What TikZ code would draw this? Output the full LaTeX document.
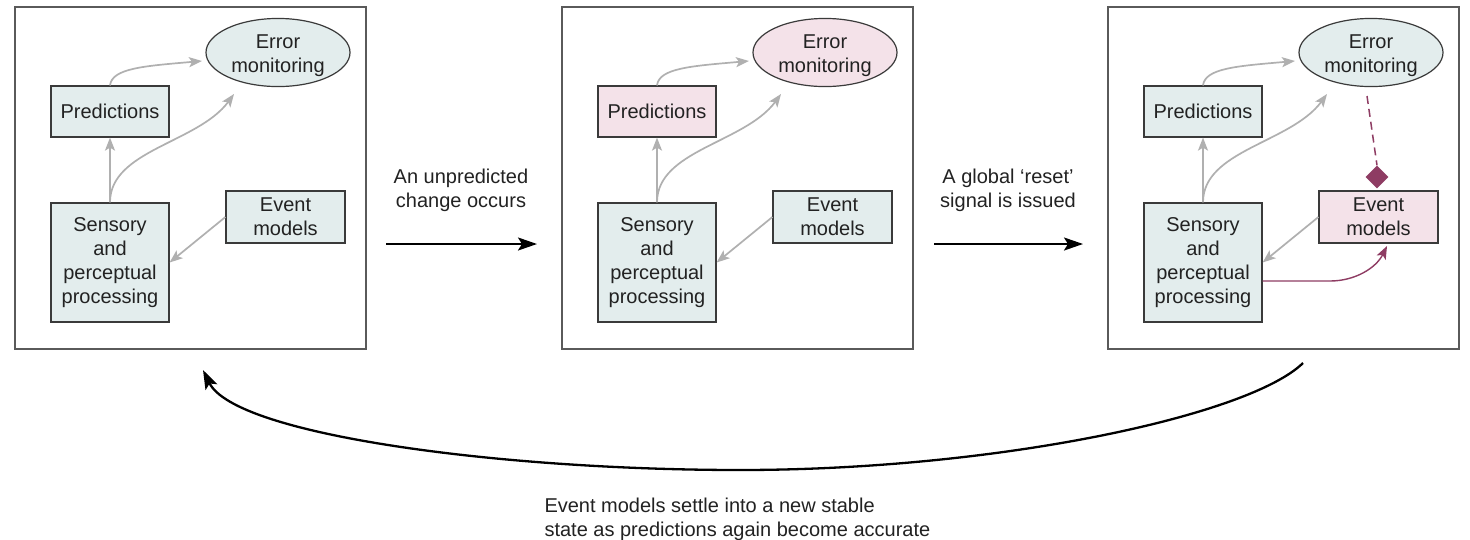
\documentclass[tikz,border=0pt]{standalone}
\usepackage{fontspec}
\setmainfont{Liberation Sans}
\usetikzlibrary{arrows.meta,shapes.geometric,calc}
\definecolor{boxblue}{HTML}{E3EDED}
\definecolor{boxpink}{HTML}{F4E2E9}
\definecolor{plum}{HTML}{8E3C63}
\definecolor{arrgray}{HTML}{B0B0B0}
\definecolor{framegray}{HTML}{5A5A5A}
\definecolor{edgecol}{HTML}{3A3A3A}
\definecolor{txt}{HTML}{222222}

\newcommand\drawpanel[5]{%
  \draw[frame] (#1,7) rectangle (#1+351,349);
  \node[predbox, fill=#3] (pred#2) at (#1+95,111.5) {Predictions};
  \node[errell, fill=#4] (err#2) at (#1+263,52.5) {\rule{0pt}{20pt}Error\\monitoring};
  \node[sensbox, fill=boxblue] (sens#2) at (#1+95,262.5) {Sensory\\and\\perceptual\\processing};
  \node[evbox, fill=#5] (ev#2) at (#1+270.5,217) {Event\\models};
  \coordinate (tipA#2) at (#1+187,61);
  \coordinate (tipB#2) at (#1+219,94);
  \draw[garrow] (pred#2.north) .. controls (#1+97,68) and (#1+130,66) .. (tipA#2);
  \draw[garrow] (sens#2.north) -- (pred#2.south);
  \draw[garrow] (sens#2.north) .. controls (#1+95,150) and (#1+183,143) .. (tipB#2);
  \draw[garrow] (ev#2.west) -- (sens#2.east);
}

\begin{document}
\begin{tikzpicture}[x=1pt,y=-1pt,
  every node/.style={font=\fontsize{20}{24}\selectfont, text=txt},
  frame/.style={draw=framegray, line width=1.5pt},
  rbox/.style={draw=edgecol, line width=1.2pt, inner sep=0pt, align=center},
  predbox/.style={rbox, minimum width=118pt, minimum height=51pt},
  sensbox/.style={rbox, minimum width=118pt, minimum height=119pt},
  evbox/.style={rbox, minimum width=119pt, minimum height=52pt},
  errell/.style={ellipse, draw=edgecol, line width=1.2pt, minimum width=144pt, minimum height=51pt, inner sep=0pt, align=center},
  garrow/.style={draw=arrgray, line width=1.7pt, -{Stealth[length=13pt,width=10pt,inset=3pt]}},
  barrow/.style={draw=black, line width=2.3pt, -{Stealth[length=19pt,width=13pt,inset=4pt]}},
  parrow/.style={draw=plum, line width=1.4pt, -{Stealth[length=13pt,width=10pt,inset=3pt]}},
  plumdia/.style={diamond, fill=plum, minimum width=23pt, minimum height=23pt, inner sep=0pt},
  caption/.style={align=center},
]
\useasboundingbox (0,0) rectangle (1470,539);
\fill[white] (0,0) rectangle (1470,539);

\drawpanel{15}{1}{boxblue}{boxblue}{boxblue}
\drawpanel{562}{2}{boxpink}{boxpink}{boxblue}
\drawpanel{1108}{3}{boxblue}{boxblue}{boxpink}

% panel 3 extras
\coordinate (dstart) at (1367,96);
\node[plumdia] (dia) at (1377,177) {};
\draw[plum, line width=1.5pt, dash pattern=on 8pt off 5pt] (dstart) -- (dia.north);
\coordinate (pbend) at (1330,281);
\coordinate (ptip) at (1387,246);
\draw[parrow] ([yshift=-18.5pt]sens3.east) -- (pbend) .. controls (1355,281) and (1376,268) .. (ptip);

% transitions
\node[caption] (t1) at (461,190) {An unpredicted\\change occurs};
\coordinate (a1s) at (386,244);
\coordinate (a1e) at (537,244);
\draw[barrow] (a1s) -- (a1e);

\node[caption] (t2) at (1008,190) {A global ‘reset’\\signal is issued};
\coordinate (a2s) at (934,244);
\coordinate (a2e) at (1083,244);
\draw[barrow] (a2s) -- (a2e);

% return arrow
\coordinate (cs) at (1303,363);
\coordinate (cm) at (740,470);
\coordinate (ce) at (203,370);
\draw[barrow] (cs) .. controls (1250,415) and (1000,470) .. (cm) .. controls (500,470) and (235,435) .. (ce);

\node[anchor=west, align=left] (t3) at (541,519) {Event models settle into a new stable\\state as predictions again become accurate};
\end{tikzpicture}
\end{document}
